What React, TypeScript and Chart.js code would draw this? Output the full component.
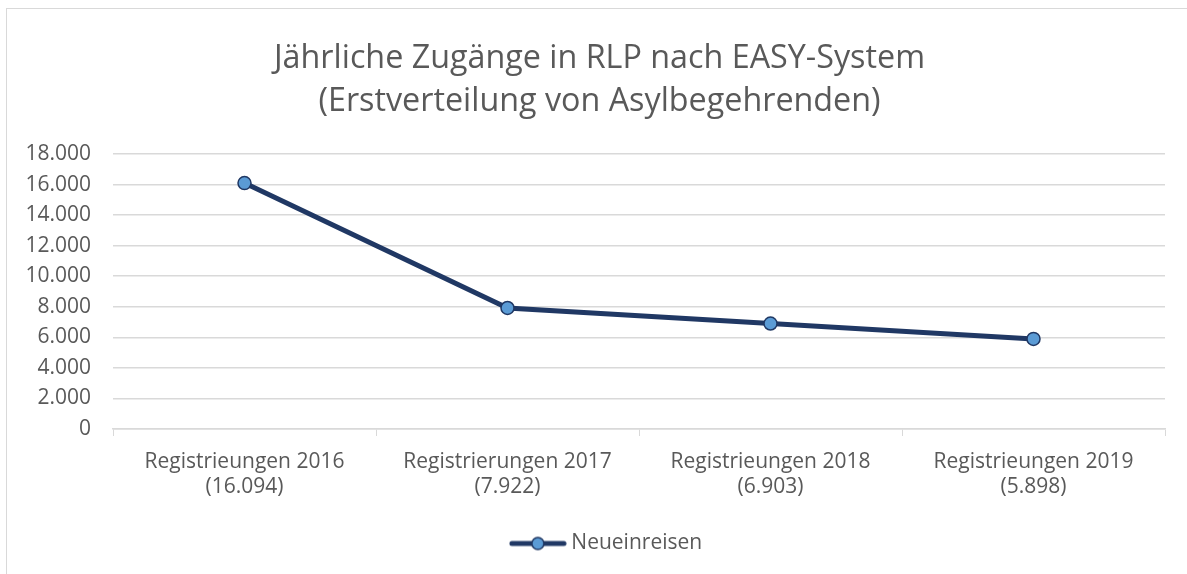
import React, { useEffect, useRef } from "react";
import { Chart, registerables } from "chart.js";

Chart.register(...registerables);

const categories = ["Registrieungen 2016", "Registrierungen 2017", "Registrieungen 2018", "Registrieungen 2019"];
const values = [16094, 7922, 6903, 5898];
const seriesName = "Neueinreisen";
const titleLines = ["Jährliche Zugänge in RLP nach EASY-System", "(Erstverteilung von Asylbegehrenden)"];
const yMin = 0;
const yMax = 18000;
const yStep = 2000;

const FONT = "'Open Sans', sans-serif";
const TEXT = "#595959";
const GRID = "#D9D9D9";
const LINE = "#203864";
const MARK = "#5B9BD5";

const fmt = (v: number) => String(Math.round(v)).replace(/\B(?=(\d{3})+(?!\d))/g, ".");

function legendIcon(): HTMLCanvasElement {
  const c = document.createElement("canvas");
  c.width = 58;
  c.height = 16;
  const ctx = c.getContext("2d")!;
  ctx.strokeStyle = LINE;
  ctx.lineWidth = 5;
  ctx.lineCap = "round";
  ctx.beginPath();
  ctx.moveTo(3, 8);
  ctx.lineTo(55, 8);
  ctx.stroke();
  ctx.beginPath();
  ctx.arc(29, 8, 6, 0, Math.PI * 2);
  ctx.fillStyle = MARK;
  ctx.fill();
  ctx.lineWidth = 1.5;
  ctx.strokeStyle = LINE;
  ctx.stroke();
  return c;
}

// Nudge title/legend boxes so they are centred like the original (which centres over the whole frame)
const centerNudge = {
  id: "centerNudge",
  afterLayout(chart: any) {
    if (chart.titleBlock) chart.titleBlock.left += 12;
    if (chart.legend) {
      chart.legend.left += 15;
      chart.legend.right += 15;
    }
  },
};

export default function App() {
  const ref = useRef<HTMLCanvasElement | null>(null);
  useEffect(() => {
    if (!ref.current) return;
    const icon = legendIcon();
    const chart = new Chart(ref.current, {
      type: "line",
      plugins: [centerNudge],
      data: {
        labels: categories.map((c, i) => [c, `(${fmt(values[i])})`]),
        datasets: [
          {
            label: seriesName,
            data: values,
            borderColor: LINE,
            borderWidth: 5,
            pointRadius: 6.5,
            pointBackgroundColor: MARK,
            pointBorderColor: LINE,
            pointBorderWidth: 1.5,
            pointStyle: "circle",
            tension: 0,
            fill: false,
          },
        ],
      },
      options: {
        animation: false,
        responsive: false,
        maintainAspectRatio: false,
        layout: { padding: { left: 22, right: 22, top: 8, bottom: 10 } },
        plugins: {
          title: {
            display: true,
            text: titleLines,
            color: TEXT,
            font: { family: FONT, size: 32.3, weight: "normal", lineHeight: 1.331 },
            padding: { top: 29, bottom: 31 },
          },
          legend: {
            position: "bottom",
            labels: {
              usePointStyle: true,
              pointStyle: icon as any,
              pointStyleWidth: 46,
              color: TEXT,
              font: { family: FONT, size: 21 },
              padding: 12,
              generateLabels: () => [
                {
                  text: seriesName,
                  pointStyle: icon as any,
                  fillStyle: MARK,
                  strokeStyle: LINE,
                  lineWidth: 0,
                  hidden: false,
                  datasetIndex: 0,
                  fontColor: TEXT,
                } as any,
              ],
            },
          },
          tooltip: { enabled: false },
        },
        scales: {
          x: {
            offset: true,
            grid: {
              display: true,
              offset: true,
              drawOnChartArea: false,
              drawTicks: true,
              tickLength: 7,
              color: GRID,
            },
            border: { display: true, color: GRID, width: 1.5 },
            ticks: {
              color: TEXT,
              font: { family: FONT, size: 21, lineHeight: 1.2 },
              padding: 13,
              maxRotation: 0,
              autoSkip: false,
            },
            afterFit: (s: any) => {
              s.height = 92;
            },
          },
          y: {
            min: yMin,
            max: yMax,
            grid: { color: GRID, lineWidth: 1.5, drawTicks: false },
            border: { display: false },
            ticks: {
              stepSize: yStep,
              color: TEXT,
              font: { family: FONT, size: 21 },
              padding: 22,
              callback: (v: any) => fmt(Number(v)),
            },
            afterFit: (s: any) => {
              s.width = 91;
            },
          },
        },
      },
    });
    return () => chart.destroy();
  }, []);
  return (
    <div style={{ position: "fixed", left: 0, top: 0, width: 1187, height: 574, overflow: "hidden", background: "#fff" }}>
      <div
        style={{
          position: "absolute",
          left: 6,
          top: 8,
          width: 1200,
          height: 600,
          border: `1.5px solid ${GRID}`,
          pointerEvents: "none",
        }}
      />
      <canvas ref={ref} width={1187} height={574} style={{ position: "absolute", left: 0, top: 0 }} />
    </div>
  );
}
